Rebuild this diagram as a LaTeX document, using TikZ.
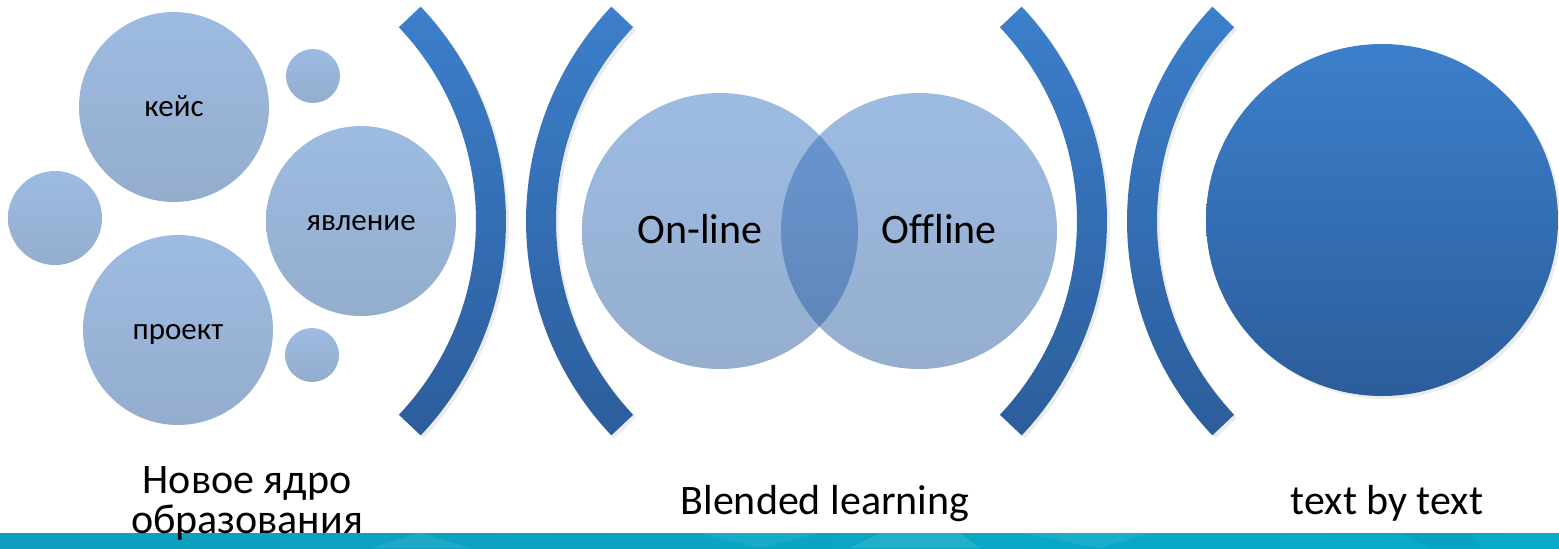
\documentclass[tikz,border=0pt]{standalone}
\usepackage{fontspec}
\setmainfont{Carlito}[Ligatures=NoCommon]
\usetikzlibrary{shadows}

\definecolor{bubtop}{RGB}{157,187,226}
\definecolor{bubbot}{RGB}{148,173,205}
\definecolor{venntop}{RGB}{51,113,195}
\definecolor{vennbot}{RGB}{34,86,153}
\definecolor{arctop}{RGB}{60,127,203}
\definecolor{arcbot}{RGB}{44,93,155}
\definecolor{bandl}{RGB}{16,158,190}
\definecolor{bandr}{RGB}{6,172,202}

\begin{document}
\begin{tikzpicture}[x=0.5pt,y=-0.5pt,
    bubble/.style={circle,inner sep=0pt,top color=bubtop,bottom color=bubbot,
      font=\fontsize{15.5}{18}\selectfont,text height=9.5pt,text depth=0pt},
    venn/.style={circle,inner sep=0pt,top color=venntop,bottom color=vennbot,fill opacity=0.48},
    brace/.style={top color=arctop,bottom color=arcbot,
      drop shadow={opacity=0.15,shadow xshift=1.5pt,shadow yshift=-1.5pt}},
    caption/.style={font=\fontsize{21}{20}\selectfont,align=center,anchor=base},
    vennlbl/.style={font=\fontsize{21}{25}\selectfont,anchor=base}]
    \useasboundingbox (0,0) rectangle (1559,548);
    % bottom band
    \fill[left color=bandl,right color=bandr] (0,533) rectangle (1559,548);
    \fill[white,opacity=0.08] (370,548) -- (420,533) -- (470,548) -- cycle;
    \fill[white,opacity=0.06] (700,533) -- (760,548) -- (820,533) -- cycle;
    \fill[white,opacity=0.1] (850,548) -- (880,533) -- (960,533) -- (980,548) -- cycle;
    \fill[white,opacity=0.07] (1020,533) -- (1100,548) -- (1150,533) -- cycle;
    \fill[black,opacity=0.05] (1400,533) -- (1430,548) -- (1480,548) -- (1470,533) -- cycle;
    % left group
    \node[bubble,minimum size=95pt] (keys) at (174,107) {кейс};
    \node[bubble,minimum size=27pt] (dota) at (313,76) {};
    \node[bubble,minimum size=47pt] (dotl) at (55,218) {};
    \node[bubble,minimum size=95pt] (event) at (361,221) {явление};
    \node[bubble,minimum size=95pt] (project) at (178,330) {проект};
    \node[bubble,minimum size=27pt] (dotb) at (312,355) {};
    % brackets
    \coordinate (c1) at (194,221);
    \coordinate (c2) at (838,221);
    \coordinate (c3) at (795,221);
    \coordinate (c4) at (1439,221);
    \path[brace] ([shift={(-43.4:312)}]c1) arc[start angle=-43.4,end angle=43.4,radius=312]
      -- ++(223.4:30) arc[start angle=43.4,end angle=-43.4,radius=282] -- cycle;
    \path[brace] ([shift={(136.6:312)}]c2) arc[start angle=136.6,end angle=223.4,radius=312]
      -- ++(43.4:30) arc[start angle=223.4,end angle=136.6,radius=282] -- cycle;
    \path[brace] ([shift={(-43.4:312)}]c3) arc[start angle=-43.4,end angle=43.4,radius=312]
      -- ++(223.4:30) arc[start angle=43.4,end angle=-43.4,radius=282] -- cycle;
    \path[brace] ([shift={(136.6:312)}]c4) arc[start angle=136.6,end angle=223.4,radius=312]
      -- ++(43.4:30) arc[start angle=223.4,end angle=136.6,radius=282] -- cycle;
    % Venn
    \node[venn,minimum size=138pt] (online) at (720,231) {};
    \node[venn,minimum size=138pt] (offline) at (919,231) {};
    \node[vennlbl] (onlbl) at (700,243) {On-line};
    \node[vennlbl] (offlbl) at (939,243) {Offline};
    % big circle
    \node[circle,inner sep=0pt,minimum size=176pt,top color=arctop,bottom color=arcbot,
      drop shadow={opacity=0.15,shadow xshift=1.5pt,shadow yshift=-1.5pt}] (goal) at (1382,220) {};
    % captions
    \node[caption] (core) at (247,533) {Новое ядро\\образования};
    \node[caption] (blend) at (825,514) {Blended learning};
    \node[caption] (tbt) at (1387,514) {text by text};
\end{tikzpicture}
\end{document}
